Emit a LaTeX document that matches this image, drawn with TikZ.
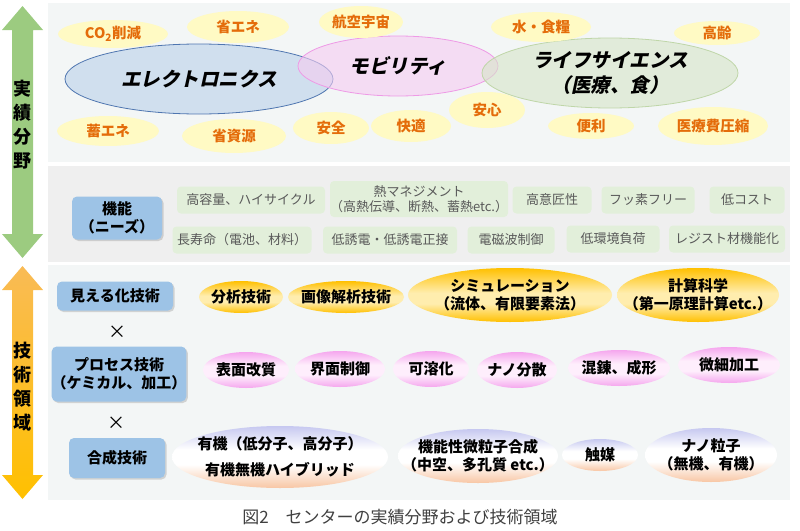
\documentclass[tikz,border=0pt]{standalone}
\usepackage{fontspec}
\setmainfont{Noto Sans CJK JP}
\newfontfamily\fieldfont[FakeSlant=0.22]{Noto Sans CJK JP}
\usetikzlibrary{shapes.geometric,shadows}
\definecolor{panelbg}{HTML}{F3F6F6}
\definecolor{needbg}{HTML}{EFEFEF}
\definecolor{goalfill}{HTML}{FFFAC4}
\definecolor{goaltext}{HTML}{E46C0A}
\definecolor{elecfill}{HTML}{B9D0EA}
\definecolor{elecline}{HTML}{4F76B0}
\definecolor{mobfill}{HTML}{F5CCF1}
\definecolor{mobline}{HTML}{EE9AE6}
\definecolor{lifefill}{HTML}{D6E5C8}
\definecolor{lifeline}{HTML}{BFD6A8}
\definecolor{needfill}{HTML}{E2EFDA}
\definecolor{needtext}{HTML}{595959}
\definecolor{techfill}{HTML}{9DC3E6}
\definecolor{fieldarrow}{HTML}{9CCB80}
\definecolor{techtop}{HTML}{F9BB55}
\definecolor{techbottom}{HTML}{FFC000}
\definecolor{visedge}{HTML}{FFC000}
\definecolor{vismid}{HTML}{FFEDAE}
\definecolor{procedge}{HTML}{F5A6EE}
\definecolor{procmid}{HTML}{FEEEFC}
\definecolor{syntop}{HTML}{C6C8F0}
\definecolor{synbottom}{HTML}{F8C6A4}
\pgfdeclareverticalshading{visualshade}{100bp}{color(0bp)=(visedge); color(25bp)=(visedge);
  color(42bp)=(vismid); color(52bp)=(vismid); color(75bp)=(visedge); color(100bp)=(visedge)}
\pgfdeclareverticalshading{processshade}{100bp}{color(0bp)=(procedge); color(25bp)=(procedge);
  color(42bp)=(procmid); color(56bp)=(procmid); color(75bp)=(procedge); color(100bp)=(procedge)}
\pgfdeclareverticalshading{synthshade}{100bp}{color(0bp)=(synbottom); color(25bp)=(synbottom);
  color(44bp)=(white); color(56bp)=(white); color(75bp)=(syntop); color(100bp)=(syntop)}
\tikzset{
  goal/.style = {ellipse, fill=goalfill, text=goaltext, inner sep=0pt,
    font=\bfseries\fontsize{14.5}{16}\selectfont},
  field/.style = {ellipse, line width=0.8pt, fill opacity=0.6, text opacity=1,
    inner sep=0pt, align=center, font=\fieldfont\bfseries\fontsize{19.5}{25}\selectfont},
  need/.style = {rounded corners=4pt, fill=needfill, text=needtext, inner sep=0pt,
    align=center, font=\fontsize{13}{15}\selectfont},
  techbox/.style = {rounded corners=5pt, fill=techfill, inner sep=0pt, align=center,
    drop shadow={shadow xshift=1.5pt, shadow yshift=-1.5pt, opacity=0.3},
    font=\bfseries\fontsize{15}{18}\selectfont},
  tech/.style = {ellipse, inner sep=0pt, shade},
  visual/.style = {tech, shading=visualshade},
  process/.style = {tech, shading=processshade},
  synth/.style = {tech, shading=synthshade},
  techlabel/.style = {align=center, inner sep=0pt, font=\bfseries\fontsize{15}{18}\selectfont},
  axislabel/.style = {align=center, inner sep=0pt, font=\bfseries\fontsize{18}{24}\selectfont}
}

\begin{document}
\begin{tikzpicture}[x=1pt,y=-1pt]
  \useasboundingbox (0,0) rectangle (800,530);
  % panels
  \fill[panelbg] (48,3) rectangle (790,162);
  \fill[needbg] (48,166) rectangle (790,262);
  \fill[panelbg] (48,265) rectangle (790,500);
  % side arrows
  \shade[top color=fieldarrow, middle color=white, bottom color=fieldarrow]
    (22.5,6) -- (43,30) -- (33,30) -- (33,234) -- (43,234) -- (22.5,258)
    -- (2,234) -- (12,234) -- (12,30) -- (2,30) -- cycle;
  \shade[top color=techtop, middle color=white, bottom color=techbottom]
    (22.5,266) -- (43,290) -- (33,290) -- (33,475) -- (43,475) -- (22.5,499)
    -- (2,475) -- (12,475) -- (12,290) -- (2,290) -- cycle;
  \node[axislabel] (fieldlbl) at (22.5,125) {実\\績\\分\\野};
  \node[axislabel] (techlbl) at (22.5,387) {技\\術\\領\\域};
  % fields
  \node[field, draw=elecline, fill=elecfill, minimum width=268, minimum height=70] (elec) at (199,79) {エレクトロニクス};
  \node[field, draw=mobline, fill=mobfill, minimum width=200, minimum height=60] (mob) at (398,66) {モビリティ};
  \node[field, draw=lifeline, fill=lifefill, minimum width=256, minimum height=70] (life) at (610,73) {ライフサイエンス\\（医療、食）};
  % goals
  \foreach \x/\y/\w/\h/\txt [count=\i] in {
    113/34/110/28/CO\textsubscript{2}削減, 238/27/102/32/省エネ, 361/22/84/32/航空宇宙,
    541/27/100/30/水・食糧, 717/33/86/24/高齢, 108/131/102/30/蓄エネ,
    234/136/104/34/省資源, 331/128/76/32/安全, 411/126/80/32/快適,
    487/110/76/36/安心, 591/126/86/26/便利, 713/126/110/38/医療費圧縮}
    \node[goal, minimum width=\w, minimum height=\h] (goal\i) at (\x,\y) {\txt};
  % needs
  \node[techbox, minimum width=90, minimum height=43] (func) at (117,218) {機能\\（ニーズ）};
  \foreach \x/\y/\w/\h/\txt [count=\i] in {
    251/200/148/27/高容量、ハイサイクル, 419/199/175/36/熱マネジメント\\（高熱伝導、断熱、蓄熱etc.）,
    552/200/79/27/高意匠性, 648/200/93/27/フッ素フリー, 747/200/75/27/低コスト,
    242/240/139/27/長寿命（電池、材料）, 390/240/134/27/低誘電・低誘電正接,
    511/240/87/27/電磁波制御, 613/239/93/27/低環境負荷, 727/239/116/27/レジスト材機能化}
    \node[need, minimum width=\w, minimum height=\h] (need\i) at (\x,\y) {\txt};
  % technologies
  \node[techbox, minimum width=116, minimum height=29] (see) at (115,296) {見える化技術};
  \node[font=\fontsize{18}{18}\selectfont] (times1) at (117,332) {×};
  \node[techbox, minimum width=132, minimum height=55] (proc) at (119,374) {プロセス技術\\（ケミカル、加工）};
  \node[font=\fontsize{18}{18}\selectfont] (times2) at (116,423) {×};
  \node[techbox, minimum width=96, minimum height=40] (syn) at (117,458) {合成技術};
  % visualisation
  \foreach \x/\y/\w/\h/\txt [count=\i] in {
    241/297/84/32/分析技術, 346/297/116/32/画像解析技術,
    510/295/204/54/シミュレーション\\（流体、有限要素法）, 698/295/162/54/計算科学\\（第一原理計算etc.）} {
    \node[visual, minimum width=\w, minimum height=\h] (vis\i) at (\x,\y) {};
    \node[techlabel] (vislbl\i) at (vis\i) {\txt};
  }
  % process
  \foreach \x/\y/\w/\h/\txt [count=\i] in {
    246/370/86/36/表面改質, 340/369/90/36/界面制御, 431/369/76/36/可溶化,
    517/370/80/36/ナノ分散, 619/368/102/36/混錬、成形, 729/365/102/36/微細加工} {
    \node[process, minimum width=\w, minimum height=\h] (proc\i) at (\x,\y) {};
    \node[techlabel] (proclbl\i) at (proc\i) {\txt};
  }
  % synthesis
  \foreach \x/\y/\w/\h/\txt [count=\i] in {
    280/457/216/62/有機（低分子、高分子）\\[8pt]有機無機ハイブリッド,
    478/456/160/54/機能性微粒子合成\\（中空、多孔質 etc.）, 600/455/76/32/触媒,
    711/455/132/54/ナノ粒子\\（無機、有機）} {
    \node[synth, minimum width=\w, minimum height=\h] (syn\i) at (\x,\y) {};
    \node[techlabel] (synlbl\i) at (syn\i) {\txt};
  }
  % caption
  \node[font=\fontsize{17}{20}\selectfont, text=black!75] (caption) at (400,517) {図2　センターの実績分野および技術領域};
\end{tikzpicture}
\end{document}
